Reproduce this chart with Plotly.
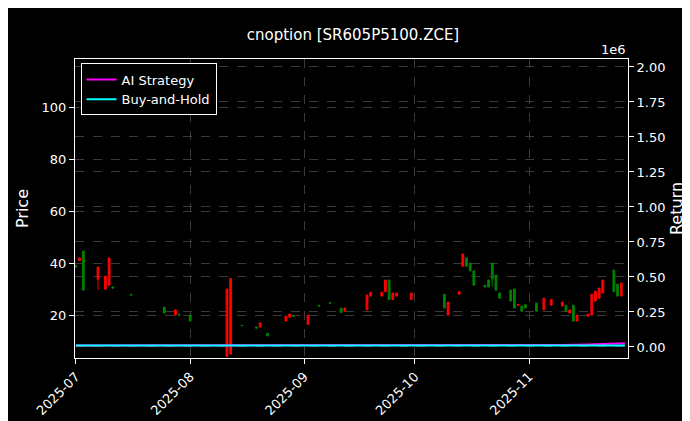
import plotly.graph_objects as go

# candle data
dates = ['2025-07-01', '2025-07-02', '2025-07-03', '2025-07-07', '2025-07-09', '2025-07-10',
         '2025-07-11', '2025-07-16', '2025-07-25', '2025-07-28', '2025-07-29', '2025-08-01',
         '2025-08-11', '2025-08-12', '2025-08-15', '2025-08-19', '2025-08-20', '2025-08-22',
         '2025-08-27', '2025-08-28', '2025-08-29', '2025-09-02', '2025-09-05', '2025-09-08',
         '2025-09-11', '2025-09-12', '2025-09-18', '2025-09-19', '2025-09-22', '2025-09-23',
         '2025-09-24', '2025-09-25', '2025-09-26', '2025-09-30', '2025-10-09', '2025-10-10',
         '2025-10-13', '2025-10-14', '2025-10-15', '2025-10-16', '2025-10-17', '2025-10-20',
         '2025-10-21', '2025-10-22', '2025-10-23', '2025-10-24', '2025-10-27', '2025-10-28',
         '2025-10-29', '2025-10-30', '2025-10-31', '2025-11-03', '2025-11-05', '2025-11-07',
         '2025-11-10', '2025-11-11', '2025-11-12', '2025-11-13', '2025-11-14', '2025-11-17',
         '2025-11-18', '2025-11-19', '2025-11-20', '2025-11-21', '2025-11-24', '2025-11-25',
         '2025-11-26']
opens = [39, 41, 44.6, 33.8, 30, 31.5, 30.8, 27.9, 23, 20, 20.3, 20,
         4.2, 5, 16, 15.4, 15.4, 13, 17.7, 19.2, 19.8, 16.5, 23.7, 24.8,
         22.7, 21.5, 22, 27.3, 27.3, 29, 33.5, 26, 27.3, 26, 28, 20,
         28, 38.8, 42, 40, 37, 31.5, 33.5, 40, 35.4, 28.5, 29.6, 30,
         23.8, 23.5, 24, 24.6, 22, 23.8, 23.5, 23.8, 20.8, 23.8, 17.7, 19.6,
         20, 25.4, 26.5, 28.5, 37.3, 31.9, 27.3]
highs = [39.5, 42, 44.6, 38.5, 35, 42, 31, 28.2, 23.3, 22, 20.6, 20.2,
         30, 34, 16.3, 15.6, 17, 13.2, 19.6, 20.4, 20, 20, 24, 25,
         22.7, 22.7, 27.7, 28.8, 28.8, 33.5, 33.5, 28.5, 28.5, 28.5, 28, 25,
         29, 43.5, 42, 40, 37, 31.5, 33.5, 40, 35.4, 28.5, 29.6, 30,
         24.1, 23.5, 24, 24.6, 26.5, 26, 25, 23.8, 22, 23.8, 20, 20.4,
         28, 29.2, 30.4, 33.5, 37.3, 31.9, 32.3]
lows = [38.5, 41, 29.6, 29.6, 30, 31.5, 30.2, 27.6, 20.8, 20, 19.8, 17.7,
        4.2, 5, 15.7, 15, 15.4, 12, 17.7, 19.2, 19.4, 16.5, 23.3, 24.4,
        21, 21.5, 22, 27.3, 27.3, 29, 26, 26, 27.3, 26, 22.7, 20,
        28, 38.8, 38.8, 37, 31.5, 30.8, 30.8, 31, 29.6, 26.5, 25.4, 22.7,
        23.5, 21.5, 22.7, 21.5, 22, 23.8, 23.5, 21.5, 20.8, 17.7, 17.7, 19.6,
        20, 25.4, 26.5, 28.5, 29, 27.3, 27.3]
closes = [38.5, 42, 29.6, 38.5, 35, 42, 30.4, 27.7, 20.8, 22, 20, 17.7,
          30, 34, 16, 15, 17, 12, 19.6, 20.4, 19.6, 20, 23.5, 24.6,
          21, 22.7, 27.7, 28.8, 28.8, 33.5, 26, 28.5, 28.5, 28.5, 22.7, 25,
          29, 43.5, 38.8, 37, 31.5, 30.8, 30.8, 34, 29.6, 26.5, 25.4, 22.7,
          24.1, 21.5, 22.7, 21.5, 26.5, 26, 25, 21.5, 22, 17.7, 20, 20.4,
          28, 29.2, 30.4, 33.5, 29, 27.3, 32.3]

# strategy returns (secondary axis)
ret_dates = ['2025-07-01', '2025-11-04', '2025-11-10', '2025-11-17', '2025-11-21', '2025-11-27']
ai_returns = [10000, 10000, 14000, 18000, 22000, 26000]
bh_returns = [10000, 10000, 10000, 10000, 10000, 10000]

right_ticks = [0, 250000, 500000, 750000, 1000000, 1250000, 1500000, 1750000, 2000000]
right_labels = ['0.00', '0.25', '0.50', '0.75', '1.00', '1.25', '1.50', '1.75', '2.00']

fig = go.Figure()
fig.add_trace(go.Candlestick(
    x=dates, open=opens, high=highs, low=lows, close=closes,
    increasing=dict(line=dict(color='#ff0000', width=1), fillcolor='#ff0000'),
    decreasing=dict(line=dict(color='#008000', width=1), fillcolor='#008000'),
    whiskerwidth=0, showlegend=False,
))
fig.add_trace(go.Scatter(x=ret_dates, y=ai_returns, mode='lines', name='AI Strategy',
                         line=dict(color='#ff00ff', width=2), yaxis='y2'))
fig.add_trace(go.Scatter(x=ret_dates, y=bh_returns, mode='lines', name='Buy-and-Hold',
                         line=dict(color='#00ffff', width=2), yaxis='y2'))

grid = dict(showgrid=True, gridcolor='#3a3a3a', griddash='dash', gridwidth=0.5)
fig.update_layout(
    width=690, height=421,
    paper_bgcolor='black', plot_bgcolor='black',
    font=dict(family='DejaVu Sans', color='white', size=13),
    title=dict(text='cnoption [SR605P5100.ZCE]', x=0.5, xanchor='center', y=0.95, font=dict(size=15)),
    margin=dict(l=67, r=70, t=51, b=71),
    xaxis=dict(type='date', range=['2025-06-30 18:00', '2025-11-27 20:00'], dtick='M1',
               tick0='2025-07-01', tickformat='%Y-%m', tickangle=-45, ticks='outside',
               tickcolor='white', showline=True, linecolor='white', mirror=True,
               automargin=False, rangeslider=dict(visible=False), **grid),
    yaxis=dict(title=dict(text='Price', standoff=8), range=[3.5, 118.5], tickvals=[20, 40, 60, 80, 100],
               ticks='outside', tickcolor='white', showline=True, linecolor='white',
               zeroline=False, automargin=False, **grid),
    yaxis2=dict(title=dict(text='Return', standoff=6), overlaying='y', side='right',
                range=[-79000, 2057000], tickvals=right_ticks, ticktext=right_labels,
                ticks='outside', tickcolor='white', showline=True, linecolor='white',
                zeroline=False, automargin=False, **grid),
    legend=dict(x=0.01, y=0.985, xanchor='left', yanchor='top', bgcolor='black',
                bordercolor='white', borderwidth=1, font=dict(size=13)),
    annotations=[dict(text='1e6', xref='paper', yref='paper', x=1.0, y=1.0,
                      xanchor='right', yanchor='bottom', showarrow=False,
                      font=dict(size=13, color='white'))],
)

fig.write_html("out.html")
